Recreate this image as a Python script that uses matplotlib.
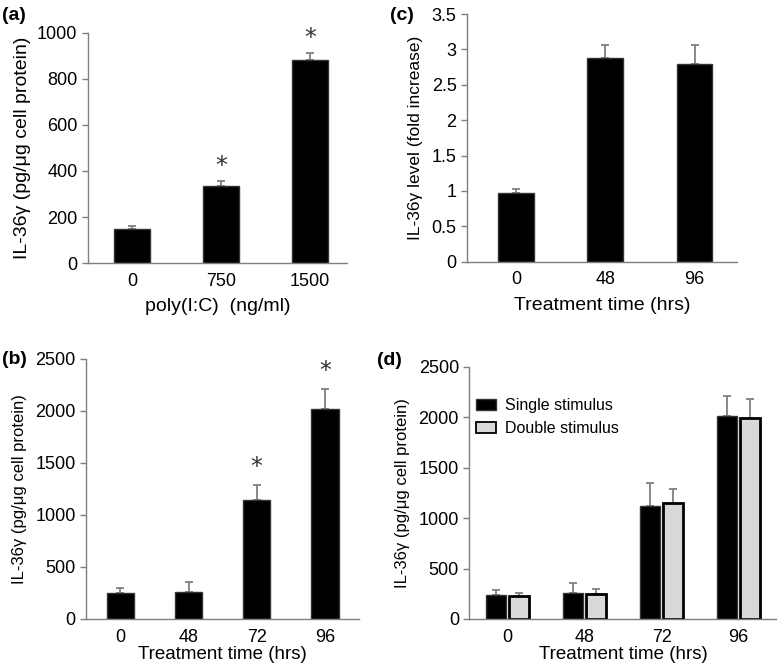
import matplotlib.pyplot as plt
import numpy as np

plt.rcParams['font.family'] = ['Liberation Sans', 'DejaVu Sans']

# (a) dose response
dose_labels = ['0', '750', '1500']
dose_vals = [150, 335, 880]
dose_err = [12, 23, 32]
dose_star = [False, True, True]

# (b) time course
time_labels = ['0', '48', '72', '96']
time_vals = [245, 262, 1140, 2015]
time_err = [50, 98, 145, 195]
time_star = [False, False, True, True]

# (c) fold increase
fold_labels = ['0', '48', '96']
fold_vals = [0.97, 2.88, 2.80]
fold_err = [0.06, 0.18, 0.27]

# (d) single vs double stimulus
single_vals = [240, 260, 1115, 2015]
single_err = [50, 100, 230, 195]
double_vals = [230, 250, 1145, 1990]
double_err = [30, 45, 140, 185]

ylab = 'IL-36γ (pg/μg cell protein)'
gray = '#7f7f7f'
fs = 13
lfs = 14


def style(ax):
    for s in ['top', 'right']:
        ax.spines[s].set_visible(False)
    for s in ['left', 'bottom']:
        ax.spines[s].set_color(gray)
        ax.spines[s].set_linewidth(1.0)
    ax.tick_params(colors=gray, labelcolor='black', labelsize=fs, length=4, width=1)
    ax.tick_params(axis='x', length=0, pad=7)


def bars(ax, x, vals, err, color, width=0.4, lw=1.0, ec='#333333'):
    ax.bar(x, vals, width, color=color, edgecolor=ec, linewidth=lw, zorder=2)
    ax.errorbar(x, vals, yerr=[np.zeros(len(vals)), err], fmt='none',
                ecolor=gray, elinewidth=1.3, capsize=3, capthick=1.3, zorder=1)


def stars(ax, x, vals, err, flags, off):
    for i, s in enumerate(flags):
        if s:
            ax.text(x[i], vals[i] + err[i] + off, '*', ha='center', va='center',
                    fontsize=17, color='#333333', family='DejaVu Sans')


fig = plt.figure(figsize=(7.77, 6.71), dpi=100)

# panel a
ax = fig.add_axes([0.113, 0.608, 0.334, 0.343])
x = np.arange(len(dose_vals))
bars(ax, x, dose_vals, dose_err, 'black')
stars(ax, x, dose_vals, dose_err, dose_star, 65)
ax.set_xlim(-0.5, 2.42)
ax.set_ylim(0, 1000)
ax.set_yticks(np.arange(0, 1001, 200))
ax.set_xticks(x)
ax.set_xticklabels(dose_labels)
ax.set_xlabel('poly(I:C)  (ng/ml)', fontsize=lfs, labelpad=6)
ax.set_ylabel(ylab, fontsize=lfs, labelpad=4)
style(ax)
fig.text(0.003, 0.977, '(a)', fontsize=lfs, fontweight='bold', va='center')

# panel c
ax = fig.add_axes([0.601, 0.610, 0.348, 0.369])
x = np.arange(len(fold_vals))
bars(ax, x, fold_vals, fold_err, 'black')
ax.set_xlim(-0.55, 2.48)
ax.set_ylim(0, 3.5)
ax.set_yticks(np.arange(0, 3.51, 0.5))
ax.set_yticklabels(['0', '0.5', '1', '1.5', '2', '2.5', '3', '3.5'])
ax.set_xticks(x)
ax.set_xticklabels(fold_labels)
ax.set_xlabel('Treatment time (hrs)', fontsize=lfs, labelpad=6)
ax.set_ylabel('IL-36γ level (fold increase)', fontsize=12.5, labelpad=6)
style(ax)
fig.text(0.502, 0.977, '(c)', fontsize=lfs, fontweight='bold', va='center')

# panel b
ax = fig.add_axes([0.111, 0.0775, 0.351, 0.388])
x = np.arange(len(time_vals))
bars(ax, x, time_vals, time_err, 'black')
stars(ax, x, time_vals, time_err, time_star, 175)
ax.set_xlim(-0.5, 3.5)
ax.set_ylim(0, 2500)
ax.set_yticks(np.arange(0, 2501, 500))
ax.set_xticks(x)
ax.set_xticklabels(time_labels)
ax.set_xlabel('Treatment time (hrs)', fontsize=13.5, labelpad=0)
ax.set_ylabel(ylab, fontsize=12, labelpad=6)
style(ax)
fig.text(0.003, 0.464, '(b)', fontsize=lfs, fontweight='bold', va='center')

# panel d
ax = fig.add_axes([0.604, 0.0775, 0.396, 0.376])
x = np.arange(len(single_vals))
w = 0.26
bars(ax, x - 0.15, single_vals, single_err, 'black', width=w)
bars(ax, x + 0.15, double_vals, double_err, '#d9d9d9', width=w, lw=2.0, ec='black')
ax.bar([0], [0], 0, color='black', edgecolor='#333333', label='Single stimulus')
ax.bar([0], [0], 0, color='#d9d9d9', edgecolor='black', linewidth=1.3, label='Double stimulus')
h, l = ax.get_legend_handles_labels()
ax.legend(h[-2:], l[-2:], loc='upper left', bbox_to_anchor=(0.0, 0.9), frameon=False,
          fontsize=11.5, handlelength=1.25, handleheight=0.7, labelspacing=0.5,
          handletextpad=0.6, borderaxespad=0)
ax.set_xlim(-0.5, 3.5)
ax.set_ylim(0, 2500)
ax.set_yticks(np.arange(0, 2501, 500))
ax.set_xticks(x)
ax.set_xticklabels(time_labels)
ax.set_xlabel('Treatment time (hrs)', fontsize=13.5, labelpad=0)
ax.set_ylabel(ylab, fontsize=12, labelpad=6)
style(ax)
fig.text(0.485, 0.462, '(d)', fontsize=lfs, fontweight='bold', va='center')

fig.savefig('out.png', dpi=100)
